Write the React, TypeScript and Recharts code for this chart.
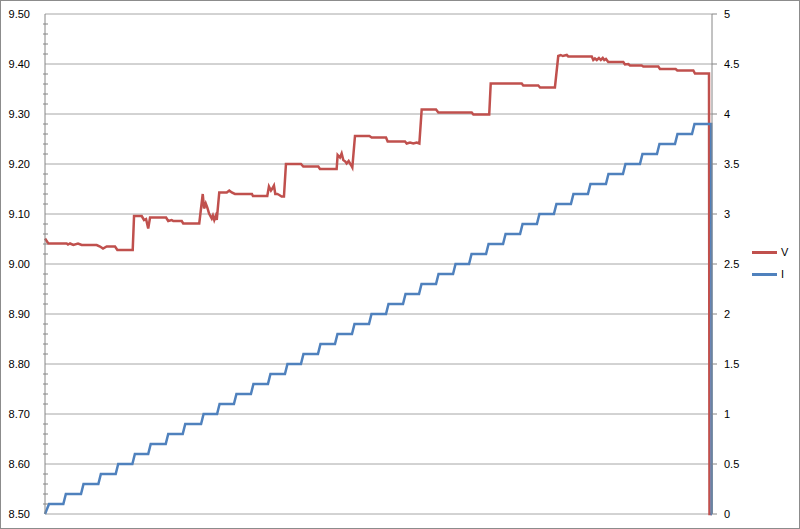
import React from "react";
import { LineChart, Line, XAxis, YAxis, ReferenceLine } from "recharts";

// Sample index (time) and measured voltage V (left axis)
const vTime = [
  0, 2.0, 13.0, 13.8, 15.0, 17.0, 19.8, 22.0, 31.0, 33.0, 34.8, 37.0, 42.0, 43.4, 52.6,
  53.4, 58.0, 59.4, 60.6, 61.9, 63.0, 72.6, 73.9, 76.0, 76.9, 82.0, 82.9, 92.5,
  94.6, 95.4, 96.4, 97.3, 98.4, 100.0, 100.7, 101.5, 102.4, 103.0,
  104.5, 109.0, 110.5, 112.0, 113.9, 124.1, 124.7, 133.3,
  134.3, 135.5, 136.3, 137.3, 138.1, 139.3, 140.5, 141.9, 143.3,
  144.5, 153.5, 154.9, 163.9, 164.9, 174.9,
  175.5, 176.9, 177.9, 178.9, 180.1, 180.9, 182.1, 183.5, 184.3,
  185.9, 194.5, 195.9, 204.5, 205.5, 215.9, 216.9, 218.9, 220.9, 222.9, 224.5,
  225.9, 234.5, 235.9, 255.9, 256.9, 266.4,
  267.3, 285.9, 286.8, 295.8, 296.9, 305.8,
  307.8, 309.3, 310.5, 312.9, 313.8, 327.9, 328.8, 329.8, 330.9, 332.2, 333.3, 334.5,
  335.4, 336.4, 337.8, 346.8, 347.8, 349.8, 350.8, 357.8, 358.8, 367.8, 368.8,
  378.2, 379.2, 388.8, 389.8, 398.2, 398.5, 400,
];
const vValue = [
  9.051, 9.041, 9.041, 9.039, 9.041, 9.038, 9.041, 9.038, 9.038, 9.035, 9.031, 9.035, 9.035, 9.028, 9.028,
  9.096, 9.096, 9.088, 9.09, 9.071, 9.093, 9.093, 9.086, 9.088, 9.086, 9.086, 9.081, 9.081,
  9.14, 9.111, 9.121, 9.113, 9.101, 9.091, 9.097, 9.088, 9.096, 9.088,
  9.143, 9.143, 9.147, 9.143, 9.14, 9.14, 9.136, 9.136,
  9.155, 9.147, 9.151, 9.157, 9.14, 9.14, 9.138, 9.135, 9.135,
  9.2, 9.2, 9.195, 9.195, 9.19, 9.19,
  9.218, 9.213, 9.221, 9.208, 9.205, 9.201, 9.206, 9.198, 9.193,
  9.256, 9.256, 9.253, 9.253, 9.245, 9.245, 9.241, 9.243, 9.241, 9.243, 9.241,
  9.309, 9.309, 9.303, 9.303, 9.299, 9.299,
  9.361, 9.361, 9.357, 9.357, 9.353, 9.353,
  9.416, 9.418, 9.416, 9.418, 9.415, 9.415, 9.408, 9.411, 9.408, 9.412, 9.408, 9.412,
  9.408, 9.41, 9.404, 9.404, 9.399, 9.4, 9.397, 9.397, 9.395, 9.395, 9.39,
  9.39, 9.387, 9.387, 9.381, 9.381, 8.5, 8.5,
];

// Sample index and current I (right axis)
const iTime = [
  0, 2.4, 11.0, 12.5, 21.6, 23.1, 32.0, 33.5, 42.4, 43.9, 52.4, 53.9, 61.9, 63.4, 72.4, 73.9,
  82.6, 84.1, 93.6, 95.1, 103.2, 104.7, 113.3, 114.8, 123.5, 125.0, 133.7, 135.2, 143.9, 145.4,
  153.5, 155.0, 163.7, 165.2, 173.9, 175.4, 184.1, 185.6, 194.3, 195.8, 204.5, 206.0, 214.7, 216.2,
  224.3, 225.8, 234.5, 236.0, 244.7, 246.2, 254.3, 255.8, 264.5, 266.0, 274.7, 276.2, 284.9, 286.4,
  295.0, 296.5, 305.2, 306.7, 315.4, 316.9, 325.6, 327.1, 336.4, 337.9, 346.6, 348.1, 356.8, 358.3,
  367.0, 368.5, 377.8, 379.3, 388.0, 389.5, 399.5, 399.8, 400,
];
const iValue = [
  0, 0.1, 0.1, 0.2, 0.2, 0.3, 0.3, 0.4, 0.4, 0.5, 0.5, 0.6, 0.6, 0.7, 0.7, 0.8,
  0.8, 0.9, 0.9, 1.0, 1.0, 1.1, 1.1, 1.2, 1.2, 1.3, 1.3, 1.4, 1.4, 1.5,
  1.5, 1.6, 1.6, 1.7, 1.7, 1.8, 1.8, 1.9, 1.9, 2.0, 2.0, 2.1, 2.1, 2.2,
  2.2, 2.3, 2.3, 2.4, 2.4, 2.5, 2.5, 2.6, 2.6, 2.7, 2.7, 2.8, 2.8, 2.9,
  2.9, 3.0, 3.0, 3.1, 3.1, 3.2, 3.2, 3.3, 3.3, 3.4, 3.4, 3.5, 3.5, 3.6,
  3.6, 3.7, 3.7, 3.8, 3.8, 3.9, 3.9, 0, 0,
];

const vTicks = [8.5, 8.6, 8.7, 8.8, 8.9, 9.0, 9.1, 9.2, 9.3, 9.4, 9.5];
const iTicks = [0, 0.5, 1, 1.5, 2, 2.5, 3, 3.5, 4, 4.5, 5];
const seriesNames = ["V", "I"];
const colors = ["#C0504D", "#4F81BD"];

const vData = vTime.map((t, k) => ({ t, v: vValue[k] }));
const iData = iTime.map((t, k) => ({ t, i: iValue[k] }));

const allLeftTicks: number[] = [];
vTicks.forEach((m, k) => {
  allLeftTicks.push(m);
  if (k < vTicks.length - 1) {
    const step = (vTicks[k + 1] - m) / 5;
    for (let j = 1; j < 5; j++) allLeftTicks.push(Math.round((m + step * j) * 1000) / 1000);
  }
});

const FONT = "'Liberation Sans', Arial, sans-serif";
const AXIS = "#868686";

const LeftTick = (props: any) => {
  const { x, y, payload } = props;
  const v = payload.value;
  const major = vTicks.some((m) => Math.abs(m - v) < 1e-6);
  if (major) {
    return (
      <text x={x - 15} y={y} dy={4} textAnchor="end" fontSize={11} fontFamily={FONT} fill="#000">
        {v.toFixed(2)}
      </text>
    );
  }
  return <line x1={x - 2} x2={x + 3} y1={y} y2={y} stroke={AXIS} strokeWidth={1} />;
};

export default function App() {
  return (
    <div style={{ position: "absolute", left: 0, top: 0, width: 800, height: 529, background: "#fff", fontFamily: FONT }}>
      <LineChart width={800} height={529} margin={{ top: 14, bottom: 15, left: 0, right: 0 }}>
        <XAxis xAxisId="x" type="number" dataKey="t" domain={[0, 400]} hide allowDuplicatedCategory={false} />
        <YAxis
          yAxisId="v"
          orientation="left"
          width={45}
          domain={[8.5, 9.5]}
          ticks={allLeftTicks}
          interval={0}
          tickSize={0}
          tickMargin={0}
          tickLine={false}
          axisLine={{ stroke: AXIS }}
          tick={<LeftTick />}
        />
        <YAxis
          yAxisId="i"
          orientation="right"
          width={88}
          domain={[0, 5]}
          ticks={iTicks}
          interval={0}
          tickSize={5}
          tickMargin={7}
          tickLine={{ stroke: AXIS }}
          axisLine={{ stroke: AXIS }}
          tick={{ fontSize: 11, fill: "#000", fontFamily: FONT, textAnchor: "start" }}
        />
        {vTicks.map((m) => (
          <ReferenceLine key={m} xAxisId="x" yAxisId="v" y={m} stroke="#a6a6a6" strokeWidth={1} />
        ))}
        <Line
          xAxisId="x"
          yAxisId="v"
          data={vData}
          dataKey="v"
          name={seriesNames[0]}
          stroke={colors[0]}
          strokeWidth={2.5}
          dot={false}
          type="linear"
          isAnimationActive={false}
        />
        <Line
          xAxisId="x"
          yAxisId="i"
          data={iData}
          dataKey="i"
          name={seriesNames[1]}
          stroke={colors[1]}
          strokeWidth={2.5}
          dot={false}
          type="linear"
          isAnimationActive={false}
        />
      </LineChart>
      <div style={{ position: "absolute", left: 752, top: 241, fontSize: 11, lineHeight: "18px", color: "#000" }}>
        {seriesNames.map((n, k) => (
          <div key={n} style={{ display: "flex", alignItems: "center", height: 22 }}>
            <div style={{ width: 25, height: 3, background: colors[k], marginRight: 4 }} />
            <span>{n}</span>
          </div>
        ))}
      </div>
      <div style={{ position: "absolute", left: 0, top: 0, width: 800, height: 529, border: "1px solid #8c8c8c", boxSizing: "border-box", pointerEvents: "none" }} />
    </div>
  );
}
